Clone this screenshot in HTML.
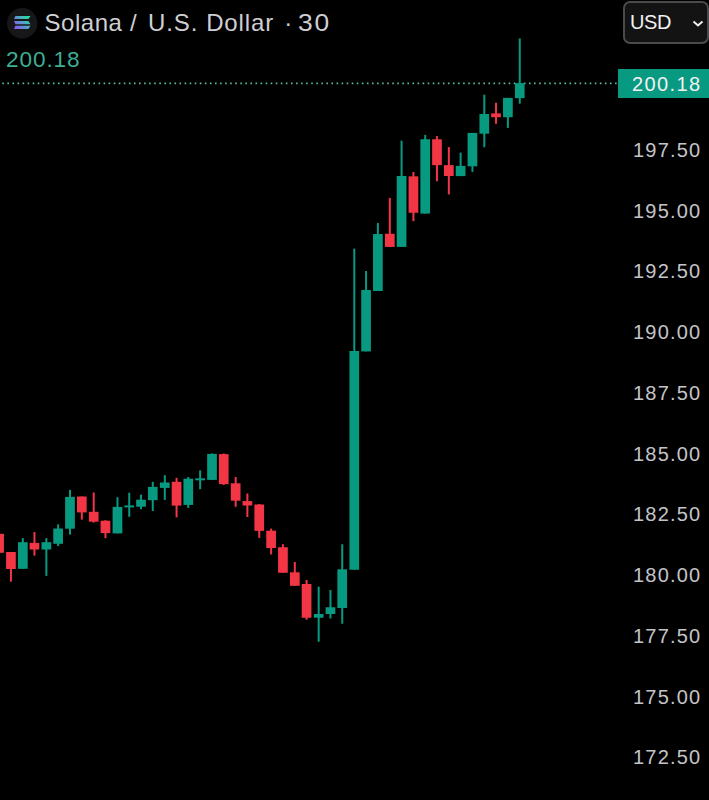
<!DOCTYPE html>
<html><head><meta charset="utf-8">
<style>
html,body{margin:0;padding:0;background:#000;}
body{width:709px;height:800px;position:relative;overflow:hidden;font-family:"Liberation Sans",sans-serif;}
.pl{position:absolute;left:633px;height:40px;line-height:40px;font-size:20px;color:#c4c4c8;letter-spacing:1.2px;white-space:nowrap;}
.t{position:absolute;top:3px;font-size:24px;line-height:40px;color:#cfcfd3;white-space:nowrap;}
#hprice{position:absolute;left:6px;top:40px;font-size:22.6px;line-height:40px;color:#3dae92;white-space:nowrap;letter-spacing:0.9px;}
#usd{position:absolute;left:623px;top:1px;width:82px;height:39px;border:2px solid #4a4a4c;border-radius:7px;background:#131313;}
#usdt{position:absolute;left:630px;top:1.75px;font-size:20px;line-height:40px;color:#f0f0f0;letter-spacing:-0.4px;}
#plbox{position:absolute;left:617.5px;top:69px;width:92px;height:29px;background:#089981;}
#plt{position:absolute;left:632px;top:64px;font-size:20px;line-height:40px;color:#f2f2f2;letter-spacing:1.4px;}
svg{position:absolute;left:0;top:0;}
</style></head><body>
<svg width="709" height="800" viewBox="0 0 709 800">
<line x1="2.3" y1="83.4" x2="617" y2="83.4" stroke="#56bb9f" stroke-width="1.6" stroke-dasharray="1.6 3.464"/>
<rect x="-1.91" y="533.80" width="2.0" height="19.00" fill="#f23645"/>
<rect x="-5.76" y="533.80" width="9.7" height="19.00" fill="#f23645"/>
<rect x="9.93" y="552.00" width="2.0" height="29.70" fill="#f23645"/>
<rect x="6.08" y="552.00" width="9.7" height="17.00" fill="#f23645"/>
<rect x="21.83" y="538.10" width="2.0" height="30.70" fill="#089981"/>
<rect x="17.98" y="542.20" width="9.7" height="26.60" fill="#089981"/>
<rect x="33.45" y="532.10" width="2.0" height="23.50" fill="#f23645"/>
<rect x="29.60" y="542.90" width="9.7" height="6.60" fill="#f23645"/>
<rect x="45.36" y="538.20" width="2.0" height="37.70" fill="#089981"/>
<rect x="41.51" y="542.20" width="9.7" height="7.30" fill="#089981"/>
<rect x="57.13" y="524.40" width="2.0" height="21.60" fill="#089981"/>
<rect x="53.28" y="528.50" width="9.7" height="15.30" fill="#089981"/>
<rect x="69.00" y="489.90" width="2.0" height="44.70" fill="#089981"/>
<rect x="65.15" y="496.90" width="9.7" height="31.80" fill="#089981"/>
<rect x="80.82" y="496.50" width="2.0" height="23.10" fill="#f23645"/>
<rect x="76.97" y="496.50" width="9.7" height="15.90" fill="#f23645"/>
<rect x="92.69" y="492.50" width="2.0" height="30.10" fill="#f23645"/>
<rect x="88.84" y="511.80" width="9.7" height="9.90" fill="#f23645"/>
<rect x="104.46" y="520.20" width="2.0" height="18.00" fill="#f23645"/>
<rect x="100.61" y="520.70" width="9.7" height="12.40" fill="#f23645"/>
<rect x="116.47" y="497.20" width="2.0" height="36.20" fill="#089981"/>
<rect x="112.62" y="506.90" width="9.7" height="26.50" fill="#089981"/>
<rect x="128.24" y="492.70" width="2.0" height="24.10" fill="#089981"/>
<rect x="124.39" y="505.40" width="9.7" height="2.00" fill="#089981"/>
<rect x="140.01" y="494.60" width="2.0" height="14.60" fill="#089981"/>
<rect x="136.16" y="499.70" width="9.7" height="7.00" fill="#089981"/>
<rect x="151.78" y="481.80" width="2.0" height="29.20" fill="#089981"/>
<rect x="147.93" y="486.90" width="9.7" height="13.30" fill="#089981"/>
<rect x="163.80" y="475.20" width="2.0" height="24.70" fill="#089981"/>
<rect x="159.95" y="482.50" width="9.7" height="5.40" fill="#089981"/>
<rect x="175.57" y="477.80" width="2.0" height="39.60" fill="#f23645"/>
<rect x="171.72" y="481.80" width="9.7" height="23.80" fill="#f23645"/>
<rect x="187.29" y="477.00" width="2.0" height="30.90" fill="#089981"/>
<rect x="183.44" y="478.70" width="9.7" height="26.20" fill="#089981"/>
<rect x="199.15" y="470.40" width="2.0" height="18.80" fill="#089981"/>
<rect x="195.30" y="478.30" width="9.7" height="2.00" fill="#089981"/>
<rect x="211.02" y="453.50" width="2.0" height="26.50" fill="#089981"/>
<rect x="207.17" y="453.90" width="9.7" height="26.00" fill="#089981"/>
<rect x="222.74" y="453.50" width="2.0" height="31.50" fill="#f23645"/>
<rect x="218.89" y="454.10" width="9.7" height="30.00" fill="#f23645"/>
<rect x="234.66" y="477.00" width="2.0" height="29.80" fill="#f23645"/>
<rect x="230.81" y="483.30" width="9.7" height="17.40" fill="#f23645"/>
<rect x="246.38" y="493.50" width="2.0" height="23.50" fill="#f23645"/>
<rect x="242.53" y="501.10" width="9.7" height="4.40" fill="#f23645"/>
<rect x="258.25" y="504.00" width="2.0" height="33.90" fill="#f23645"/>
<rect x="254.40" y="504.50" width="9.7" height="26.40" fill="#f23645"/>
<rect x="270.12" y="528.60" width="2.0" height="25.80" fill="#f23645"/>
<rect x="266.27" y="530.70" width="9.7" height="17.30" fill="#f23645"/>
<rect x="281.93" y="544.25" width="2.0" height="28.50" fill="#f23645"/>
<rect x="278.08" y="547.25" width="9.7" height="25.50" fill="#f23645"/>
<rect x="293.80" y="562.00" width="2.0" height="23.80" fill="#f23645"/>
<rect x="289.95" y="572.30" width="9.7" height="13.50" fill="#f23645"/>
<rect x="305.57" y="580.00" width="2.0" height="39.70" fill="#f23645"/>
<rect x="301.72" y="584.00" width="9.7" height="33.75" fill="#f23645"/>
<rect x="317.69" y="586.70" width="2.0" height="55.05" fill="#089981"/>
<rect x="313.84" y="614.00" width="9.7" height="3.75" fill="#089981"/>
<rect x="329.46" y="590.00" width="2.0" height="28.50" fill="#089981"/>
<rect x="325.61" y="607.25" width="9.7" height="6.75" fill="#089981"/>
<rect x="341.23" y="544.25" width="2.0" height="79.50" fill="#089981"/>
<rect x="337.38" y="569.30" width="9.7" height="38.70" fill="#089981"/>
<rect x="353.30" y="248.60" width="2.0" height="321.15" fill="#089981"/>
<rect x="349.44" y="351.00" width="9.7" height="218.75" fill="#089981"/>
<rect x="365.06" y="271.00" width="2.0" height="80.40" fill="#089981"/>
<rect x="361.21" y="290.00" width="9.7" height="61.40" fill="#089981"/>
<rect x="376.88" y="223.00" width="2.0" height="68.00" fill="#089981"/>
<rect x="373.03" y="234.00" width="9.7" height="57.00" fill="#089981"/>
<rect x="388.80" y="197.90" width="2.0" height="49.00" fill="#f23645"/>
<rect x="384.95" y="233.75" width="9.7" height="13.15" fill="#f23645"/>
<rect x="400.57" y="140.65" width="2.0" height="106.25" fill="#089981"/>
<rect x="396.72" y="176.00" width="9.7" height="70.90" fill="#089981"/>
<rect x="412.44" y="172.00" width="2.0" height="49.15" fill="#f23645"/>
<rect x="408.59" y="176.35" width="9.7" height="36.40" fill="#f23645"/>
<rect x="424.21" y="134.90" width="2.0" height="78.70" fill="#089981"/>
<rect x="420.36" y="139.25" width="9.7" height="74.35" fill="#089981"/>
<rect x="435.97" y="136.10" width="2.0" height="45.15" fill="#f23645"/>
<rect x="432.12" y="139.25" width="9.7" height="25.90" fill="#f23645"/>
<rect x="447.84" y="147.10" width="2.0" height="47.30" fill="#f23645"/>
<rect x="443.99" y="165.15" width="9.7" height="10.85" fill="#f23645"/>
<rect x="459.61" y="152.60" width="2.0" height="23.50" fill="#089981"/>
<rect x="455.76" y="165.90" width="9.7" height="10.20" fill="#089981"/>
<rect x="471.43" y="132.90" width="2.0" height="39.00" fill="#089981"/>
<rect x="467.58" y="132.90" width="9.7" height="33.40" fill="#089981"/>
<rect x="483.30" y="94.70" width="2.0" height="52.50" fill="#089981"/>
<rect x="479.45" y="114.00" width="9.7" height="19.70" fill="#089981"/>
<rect x="495.02" y="102.75" width="2.0" height="21.00" fill="#f23645"/>
<rect x="491.17" y="113.40" width="9.7" height="3.80" fill="#f23645"/>
<rect x="506.89" y="97.90" width="2.0" height="30.00" fill="#089981"/>
<rect x="503.04" y="97.90" width="9.7" height="19.30" fill="#089981"/>
<rect x="518.75" y="38.40" width="2.0" height="65.30" fill="#089981"/>
<rect x="514.90" y="83.10" width="9.7" height="15.00" fill="#089981"/>
</svg>
<svg width="50" height="50" viewBox="0 0 50 50" style="left:0;top:0">
<defs>
<linearGradient id="sg" x1="14" y1="30" x2="30" y2="15" gradientUnits="userSpaceOnUse">
<stop offset="0" stop-color="#9945ff"/><stop offset="1" stop-color="#14f195"/>
</linearGradient>
</defs>
<circle cx="22.2" cy="23.2" r="15.2" fill="#17171a"/>
<polygon points="15.5,15.9 30.5,15.9 28.4,18.9 13.9,18.9" fill="url(#sg)"/>
<polygon points="13.9,21 28.4,21 30.5,24.2 15.5,24.2" fill="url(#sg)"/>
<polygon points="15.5,25.8 30.5,25.8 28.4,29 13.9,29" fill="url(#sg)"/>
</svg>
<div class="t" style="left:44.6px;letter-spacing:0.5px">Solana</div>
<div class="t" style="left:130px">/</div>
<div class="t" style="left:148px;letter-spacing:0.9px">U.S.</div>
<div class="t" style="left:206.2px;letter-spacing:0.85px">Dollar</div>
<div class="t" style="left:284.3px">·</div>
<div class="t" style="left:298.2px;letter-spacing:1.6px;transform:scaleX(1.1);transform-origin:0 0">30</div>
<div id="hprice">200.18</div>
<div id="usd"></div>
<div id="usdt">USD</div>
<svg width="20" height="20" viewBox="0 0 20 20" style="left:688px;top:14px">
<polyline points="5.5,7.5 10,11.5 14.5,7.5" fill="none" stroke="#f0f0f0" stroke-width="2"/>
</svg>
<div id="plbox"></div>
<div id="plt">200.18</div>
<div class="pl" style="top:129.8px">197.50</div>
<div class="pl" style="top:190.6px">195.00</div>
<div class="pl" style="top:251.3px">192.50</div>
<div class="pl" style="top:312.1px">190.00</div>
<div class="pl" style="top:372.8px">187.50</div>
<div class="pl" style="top:433.6px">185.00</div>
<div class="pl" style="top:494.4px">182.50</div>
<div class="pl" style="top:555.1px">180.00</div>
<div class="pl" style="top:615.9px">177.50</div>
<div class="pl" style="top:676.6px">175.00</div>
<div class="pl" style="top:737.4px">172.50</div>
</body></html>
